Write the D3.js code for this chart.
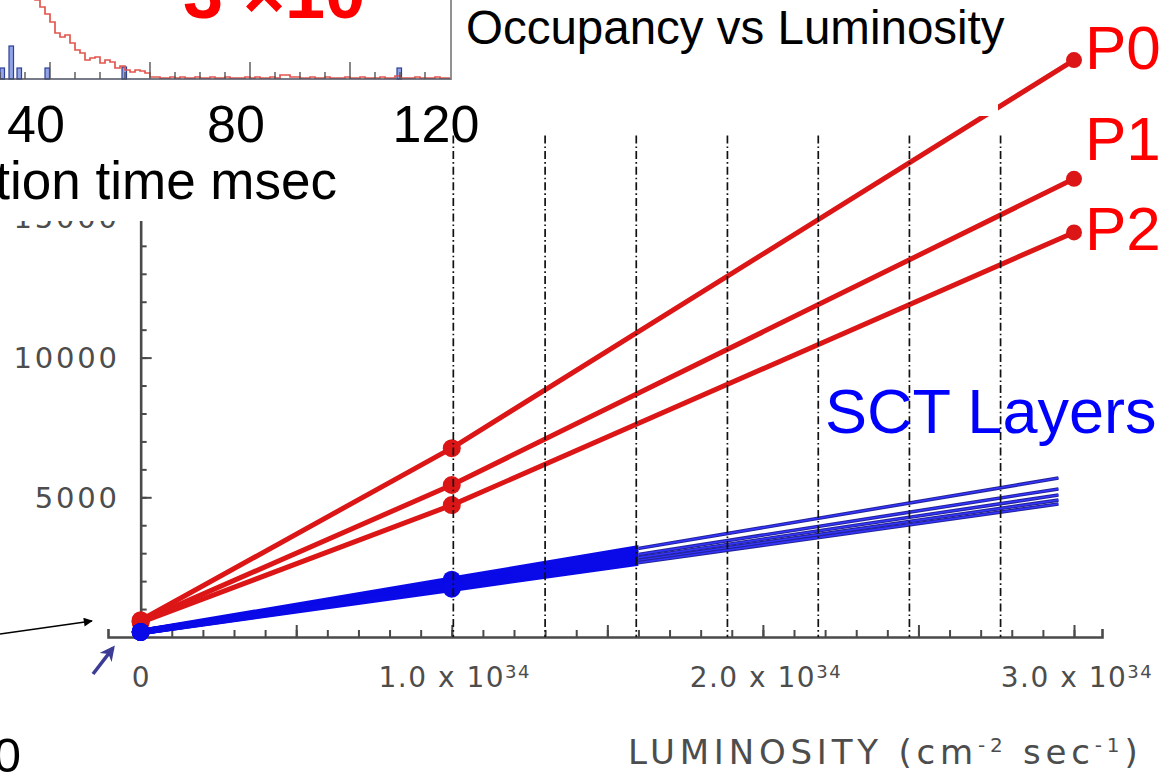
<!DOCTYPE html>
<html>
<head>
<meta charset="utf-8">
<script src="https://cdn.jsdelivr.net/npm/d3@7"></script>
<style>
  html, body { margin: 0; padding: 0; background: #fff; overflow: hidden; }
  svg { display: block; }
</style>
</head>
<body>
<svg id="chart" width="1166" height="775"></svg>
<script>
// ---- Occupancy vs luminosity: pixel layers (P0..P2) and SCT layers ----
const pixelLum = [0, 1.0, 3.0];                 // luminosity, units of 1e34 cm^-2 s^-1
const occP0 = [600, 6760, 20650];
const occP1 = [560, 5440, 16400];
const occP2 = [520, 4720, 14480];
const pixelNames = ["P0", "P1", "P2"];

const sctLum = [0, 1.0, 2.95];
const sctL1 = [180, 2050, 5690];
const sctL2 = [180, 1910, 5300];
const sctL3 = [180, 1840, 5080];
const sctL4 = [180, 1780, 4900];
const sctL5 = [180, 1730, 4760];

const yLabelValues = [5000, 10000, 15000];
const xLabelValues = [0, 1, 2, 3];
const xLabelMantissa = ["0", "1.0", "2.0", "3.0"];
const gridLum = [1.005, 1.300, 1.593, 1.886, 2.178, 2.471, 2.764];

// ---- integration-time histogram (inset) ----
const redStart = 33;   // msec, first bin
const redCounts = [100, 92, 86, 82, 79, 72, 65, 57, 46, 42, 44, 36, 29, 26, 19, 21, 22, 16, 19, 17,
  11, 13, 9, 7, 9, 8, 6, 2, 2,
  1, 1, 2, 1, 2, 1, 1, 2, 1, 1, 2, 1, 1, 2, 1, 1, 1, 2, 1, 2,
  1, 1, 2, 1, 4, 4, 2, 2, 1, 1, 2, 1, 1, 2, 1, 1, 1, 2, 1, 1,
  2, 1, 1, 1, 2, 1, 1, 3, 1, 1, 1, 2, 1, 1, 1, 2, 1, 1];
const blueTimes = [30.0, 31.8, 33.4, 39.0, 54.4, 109.4];
const blueCounts = [11, 33, 11, 11, 12, 11];
const insetLabels = [40, 80, 120];

const svg = d3.select("#chart");

// ---------- main chart scales ----------
const x = d3.scaleLinear().domain([-0.105, 3.09]).range([108, 1102]);
const y = d3.scaleLinear().domain([0, 20000]).range([637, 78.2]);

const axisColor = "#4a4a4a";
const main = svg.append("g");

// x axis: minor + major ticks pointing inward
main.append("g").attr("transform", `translate(0,${y(0)})`)
  .call(d3.axisBottom(x).tickValues(d3.range(0, 31).map(i => i / 10))
    .tickSize(-7).tickSizeOuter(-8).tickFormat(""));
const gxMajor = main.append("g").attr("transform", `translate(0,${y(0)})`)
  .call(d3.axisBottom(x).tickValues(d3.range(0, 7).map(i => i / 2))
    .tickSize(-12).tickSizeOuter(0).tickFormat(""));
gxMajor.select(".domain").remove();

// y axis
main.append("g").attr("transform", `translate(${x(0)},0)`)
  .call(d3.axisLeft(y).tickValues(d3.range(1000, 20001, 1000))
    .tickSize(-6).tickSizeOuter(0).tickFormat(""));
const gyMajor = main.append("g").attr("transform", `translate(${x(0)},0)`)
  .call(d3.axisLeft(y).tickValues([5000, 10000, 15000, 20000])
    .tickSize(-11).tickSizeOuter(0).tickFormat(""));
gyMajor.select(".domain").remove();

main.selectAll(".domain").attr("stroke", axisColor).attr("stroke-width", 2.6);
main.selectAll(".tick line").attr("stroke", axisColor).attr("stroke-width", 2);

// axis labels
const labelFont = "'DejaVu Sans', sans-serif";
main.selectAll("text.ylab").data(yLabelValues).join("text")
  .attr("class", "ylab")
  .attr("x", x(0) - 21).attr("y", d => y(d) + 10.5)
  .attr("text-anchor", "end")
  .attr("font-family", labelFont).attr("font-size", 29)
  .attr("letter-spacing", 2.8)
  .attr("fill", "#4d4d4d")
  .text(d => d);

xLabelValues.forEach((v, i) => {
  const t = main.append("text")
    .attr("x", x(v) + (v === 0 ? 0 : 3)).attr("y", 687)
    .attr("text-anchor", "middle")
    .attr("font-family", labelFont).attr("font-size", 28)
    .attr("letter-spacing", v === 0 ? 0 : 1.5)
    .attr("fill", "#4d4d4d");
  if (v === 0) {
    t.text(xLabelMantissa[i]);
  } else {
    t.append("tspan").text(xLabelMantissa[i] + " x 10");
    t.append("tspan").attr("dy", -9).attr("font-size", 18).text("34");
  }
});

const lumTitle = main.append("text")
  .attr("x", 628).attr("y", 764)
  .attr("font-family", labelFont).attr("font-size", 34)
  .attr("letter-spacing", 4.8)
  .attr("fill", "#4d4d4d");
lumTitle.append("tspan").text("LUMINOSITY (cm");
lumTitle.append("tspan").attr("dy", -12).attr("font-size", 20).text("-2");
lumTitle.append("tspan").attr("dy", 12).text(" sec");
lumTitle.append("tspan").attr("dy", -12).attr("font-size", 20).text("-1");
lumTitle.append("tspan").attr("dy", 12).text(")");

// ---------- pixel layers (red) ----------
const red = "#dc1616";
const pixLine = d3.line().x((d, i) => x(pixelLum[i])).y(d => y(d));
[occP0, occP1, occP2].forEach(s => {
  main.append("path").attr("d", pixLine(s))
    .attr("fill", "none").attr("stroke", red).attr("stroke-width", 5)
    .attr("stroke-linecap", "round").attr("stroke-linejoin", "round");
  main.selectAll(null).data(s).join("circle")
    .attr("cx", (d, i) => x(pixelLum[i])).attr("cy", d => y(d))
    .attr("r", (d, i) => i === 2 ? 8 : 9).attr("fill", red);
});

// ---------- SCT layers (blue) ----------
const defs = svg.append("defs");
const splitLum = 1.6;
defs.append("clipPath").attr("id", "clipLeft")
  .append("rect").attr("x", 0).attr("y", 0).attr("width", x(splitLum)).attr("height", 775);
defs.append("clipPath").attr("id", "clipRight")
  .append("rect").attr("x", x(splitLum)).attr("y", 0).attr("width", 1166 - x(splitLum)).attr("height", 775);

const sctSeries = [sctL1, sctL2, sctL3, sctL4, sctL5];
const sctLine = d3.line().x((d, i) => x(sctLum[i])).y(d => y(d));
const blueThick = main.append("g").attr("clip-path", "url(#clipLeft)");
const blueThin = main.append("g").attr("clip-path", "url(#clipRight)");
sctSeries.forEach(s => {
  blueThick.append("path").attr("d", sctLine(s))
    .attr("fill", "none").attr("stroke", "#0a0ae8").attr("stroke-width", 6.5)
    .attr("stroke-linecap", "round");
  blueThin.append("path").attr("d", sctLine(s))
    .attr("fill", "none").attr("stroke", "#23239a").attr("stroke-width", 3.6);
  blueThin.append("path").attr("d", sctLine(s))
    .attr("fill", "none").attr("stroke", "#3434ff").attr("stroke-width", 1.5);
});
sctSeries.forEach(s => {
  main.selectAll(null).data(s.slice(0, 2)).join("circle")
    .attr("cx", (d, i) => x(sctLum[i])).attr("cy", d => y(d))
    .attr("r", 9).attr("fill", "#0a0ae8");
});

// dash-dot guide lines drawn over the data
main.selectAll("line.grid").data(gridLum).join("line")
  .attr("class", "grid")
  .attr("x1", d => x(d)).attr("x2", d => x(d))
  .attr("y1", y(17950)).attr("y2", y(0))
  .attr("stroke", "#111").attr("stroke-width", 1.7)
  .attr("stroke-dasharray", "8,3,1.6,3");

// ---------- panels laid over the top of the chart ----------
svg.append("rect").attr("x", 0).attr("y", 0).attr("width", 452).attr("height", 221).attr("fill", "#fff");
svg.append("rect").attr("x", 452).attr("y", 0).attr("width", 546).attr("height", 116).attr("fill", "#fff");

// inset histogram
const tScale = d3.scaleLinear().domain([40, 120]).range([50, 450]);
const cScale = d3.scaleLinear().domain([0, 80]).range([79, -1]);
defs.append("clipPath").attr("id", "clipInset")
  .append("rect").attr("x", 0).attr("y", 0).attr("width", 451).attr("height", 80);
const inset = svg.append("g").attr("clip-path", "url(#clipInset)");

inset.selectAll("rect.bar").data(blueTimes).join("rect")
  .attr("class", "bar")
  .attr("x", d => tScale(d)).attr("width", d => tScale(d + 0.9) - tScale(d))
  .attr("y", (d, i) => cScale(blueCounts[i]))
  .attr("height", (d, i) => cScale(0) - cScale(blueCounts[i]))
  .attr("fill", "#93a4e6").attr("stroke", "#2e3f96").attr("stroke-width", 1.2);

const redPts = redCounts.map((c, i) => [redStart + i, c]);
redPts.push([redStart + redCounts.length, redCounts[redCounts.length - 1]]);
inset.append("path")
  .attr("d", d3.line().curve(d3.curveStepAfter).x(d => tScale(d[0])).y(d => cScale(d[1]))(redPts))
  .attr("fill", "none").attr("stroke", "#e2564e").attr("stroke-width", 1.7);

// inset axis
const insetAxis = svg.append("g").attr("transform", `translate(0,${cScale(0)})`);
insetAxis.append("line").attr("x1", 0).attr("x2", 451).attr("y1", 0).attr("y2", 0)
  .attr("stroke", "#4a5060").attr("stroke-width", 1.6);
insetAxis.selectAll("line.minor").data(d3.range(30, 120, 5)).join("line")
  .attr("x1", d => tScale(d)).attr("x2", d => tScale(d))
  .attr("y1", 0).attr("y2", d => d % 20 === 0 ? -17 : -7)
  .attr("stroke", "#555").attr("stroke-width", 1.4);
svg.append("line").attr("x1", 451).attr("x2", 451).attr("y1", 0).attr("y2", 80)
  .attr("stroke", "#777").attr("stroke-width", 1.6);

const arial = "'Liberation Sans', Arial, sans-serif";
svg.selectAll("text.tlab").data(insetLabels).join("text")
  .attr("class", "tlab")
  .attr("x", d => tScale(d) - 14).attr("y", 142)
  .attr("text-anchor", "middle")
  .attr("font-family", arial).attr("font-size", 52).attr("fill", "#000")
  .text(d => d);
svg.append("text").attr("x", 337).attr("y", 199).attr("text-anchor", "end")
  .attr("font-family", arial).attr("font-size", 53).attr("fill", "#000")
  .text("tion time msec");
svg.append("text").attr("x", 183).attr("y", 18)
  .attr("font-family", arial).attr("font-size", 72).attr("font-weight", "bold")
  .attr("fill", "#ff0000").text("3 ×10");

svg.append("text").attr("x", 466).attr("y", 44)
  .attr("font-family", arial).attr("font-size", 47.5).attr("fill", "#000")
  .text("Occupancy vs Luminosity");

// series labels
const pixLabelBase = [69, 160, 250];
svg.selectAll("text.plab").data(pixelNames).join("text")
  .attr("class", "plab")
  .attr("x", 1085).attr("y", (d, i) => pixLabelBase[i])
  .attr("font-family", arial).attr("font-size", 62).attr("fill", "#ff0000")
  .text(d => d);
svg.append("text").attr("x", 825).attr("y", 433)
  .attr("font-family", arial).attr("font-size", 63).attr("fill", "#0000ff")
  .text("SCT Layers");

// pointer arrows near the origin
defs.append("marker").attr("id", "headBlack").attr("viewBox", "0 0 10 10")
  .attr("refX", 9).attr("refY", 5).attr("markerWidth", 14).attr("markerHeight", 9)
  .attr("markerUnits", "userSpaceOnUse").attr("orient", "auto")
  .append("path").attr("d", "M0,0L10,5L0,10Z").attr("fill", "#000");
svg.append("line").attr("x1", 0).attr("y1", 634).attr("x2", 92).attr("y2", 621)
  .attr("stroke", "#000").attr("stroke-width", 1.6)
  .attr("marker-end", "url(#headBlack)");

defs.append("marker").attr("id", "headBlue").attr("viewBox", "0 0 10 10")
  .attr("refX", 8).attr("refY", 5).attr("markerWidth", 15).attr("markerHeight", 15)
  .attr("markerUnits", "userSpaceOnUse").attr("orient", "auto")
  .append("path").attr("d", "M0,0L10,5L0,10L3,5Z").attr("fill", "#3c3c96");
svg.append("line").attr("x1", 93).attr("y1", 674).attr("x2", 113).attr("y2", 648)
  .attr("stroke", "#3c3c96").attr("stroke-width", 3.6)
  .attr("marker-end", "url(#headBlue)");

svg.append("text").attr("x", 21).attr("y", 772).attr("text-anchor", "end")
  .attr("font-family", arial).attr("font-size", 49).attr("fill", "#000").text("0");
</script>
</body>
</html>
